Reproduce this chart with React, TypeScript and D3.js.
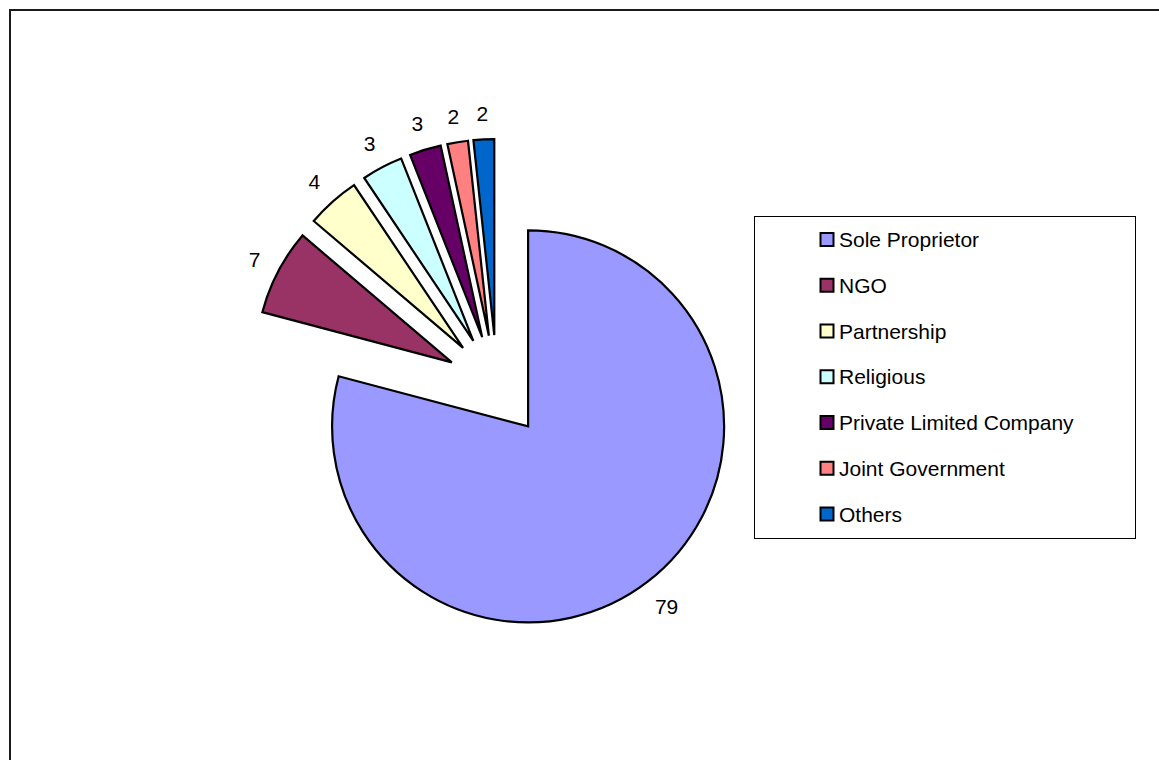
import React from "react";
import * as d3 from "d3";

const categories = [
  "Sole Proprietor",
  "NGO",
  "Partnership",
  "Religious",
  "Private Limited Company",
  "Joint Government",
  "Others",
];
// percentages; labels show them rounded
const values = [79.2, 7.1, 4.4, 3.4, 2.6, 1.7, 1.7];

const palette = ["#9999FF", "#993366", "#FFFFCC", "#CCFFFF", "#660066", "#FF8080", "#0066CC"];

const W = 1159;
const H = 760;
const CX = 497;
const CY = 386;
const R = 196;
const EXPLODE = 51;
const FONT = "'Liberation Sans', Arial, Helvetica, sans-serif";
const FS = 21;

export default function App() {
  const pie = d3
    .pie<number>()
    .sort(null)
    .startAngle(0)
    .endAngle(2 * Math.PI)
    .value((d) => d);
  const arcs = pie(values);
  const arc = d3.arc<d3.PieArcDatum<number>>().innerRadius(0).outerRadius(R);
  const fmt = d3.format(".0f");

  const legendY = d3
    .scalePoint<string>()
    .domain(categories)
    .range([239.5, 514]);

  return (
    <svg
      width={W}
      height={H}
      style={{ position: "absolute", left: 0, top: 0, background: "#fff" }}
      fontFamily={FONT}
    >
      <rect x={0} y={0} width={W} height={H} fill="#fff" />
      <rect x={10} y={10} width={W + 20} height={H + 20} fill="none" stroke="#1a1a1a" strokeWidth={2} />
      <g transform={`translate(${CX},${CY})`}>
        {arcs.map((a, i) => {
          const mid = (a.startAngle + a.endAngle) / 2;
          const dx = Math.sin(mid);
          const dy = -Math.cos(mid);
          const ox = dx * EXPLODE;
          const oy = dy * EXPLODE;
          const label = fmt(values[i]);
          const hw = (label.length * 0.556 * FS) / 2;
          const hh = (0.716 * FS) / 2;
          const ext = hw * Math.abs(dx) + hh * Math.abs(dy);
          const dist = R + 18 + ext;
          return (
            <g key={categories[i]} transform={`translate(${ox},${oy})`}>
              <path
                d={arc(a) || ""}
                fill={palette[i]}
                stroke="#000"
                strokeWidth={2.2}
                strokeLinejoin="miter"
              />
              <text
                x={dx * dist}
                y={dy * dist}
                textAnchor="middle"
                dominantBaseline="central"
                fontSize={FS}
                fill="#000"
              >
                {label}
              </text>
            </g>
          );
        })}
      </g>
      <rect x={754.5} y={216.5} width={381} height={322} fill="#fff" stroke="#000" strokeWidth={1} />
      {categories.map((c, i) => {
        const y = legendY(c) as number;
        return (
          <g key={c}>
            <rect x={820.5} y={y - 6.5} width={13} height={13} fill={palette[i]} stroke="#000" strokeWidth={2} />
            <text x={839} y={y} dominantBaseline="central" fontSize={FS} fill="#000">
              {c}
            </text>
          </g>
        );
      })}
    </svg>
  );
}
